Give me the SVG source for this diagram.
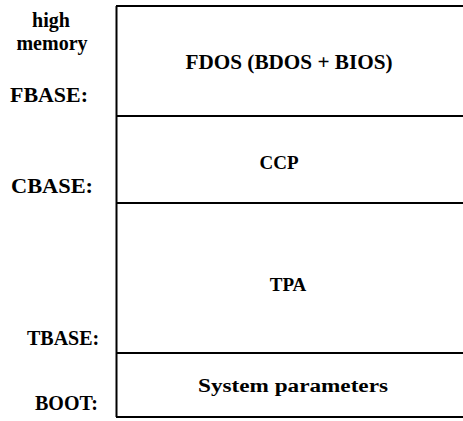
<svg xmlns="http://www.w3.org/2000/svg" width="463" height="421" viewBox="0 0 463 421">
<style>
.t{font-family:"Liberation Serif","Times New Roman",serif;font-weight:bold;fill:#000}
.lbl{font-size:20px}
.box{font-size:19px;text-anchor:middle}
.ln{stroke:#000;stroke-width:2;fill:none}
</style>
<rect width="463" height="421" fill="#fff"/>
<g id="frame">
<line class="ln" x1="116.5" y1="6" x2="116.5" y2="417"/>
</g>
<g id="fdos">
<line class="ln" x1="116" y1="6" x2="463" y2="6"/>
<text class="t box" x="289" y="69" textLength="207" lengthAdjust="spacingAndGlyphs" style="font-size:20px">FDOS (BDOS + BIOS)</text>
</g>
<g id="ccp">
<line class="ln" x1="116" y1="116" x2="463" y2="116"/>
<text class="t box" x="279" y="169">CCP</text>
</g>
<g id="tpa">
<line class="ln" x1="116" y1="203" x2="463" y2="203"/>
<text class="t box" x="288" y="291">TPA</text>
</g>
<g id="sysparams">
<line class="ln" x1="116" y1="353" x2="463" y2="353"/>
<line class="ln" x1="116" y1="417" x2="463" y2="417"/>
<text class="t box" x="293" y="392" textLength="190" lengthAdjust="spacingAndGlyphs" style="font-size:18px">System parameters</text>
</g>
<g id="labels">
<text class="t lbl" x="51" y="27" text-anchor="middle">high</text>
<text class="t lbl" x="52" y="50" text-anchor="middle">memory</text>
<text class="t lbl" x="10" y="102" textLength="78" lengthAdjust="spacingAndGlyphs">FBASE:</text>
<text class="t lbl" x="11" y="193" textLength="82" lengthAdjust="spacingAndGlyphs">CBASE:</text>
<text class="t lbl" x="27" y="345">TBASE:</text>
<text class="t lbl" x="35" y="410">BOOT:</text>
</g>
</svg>
